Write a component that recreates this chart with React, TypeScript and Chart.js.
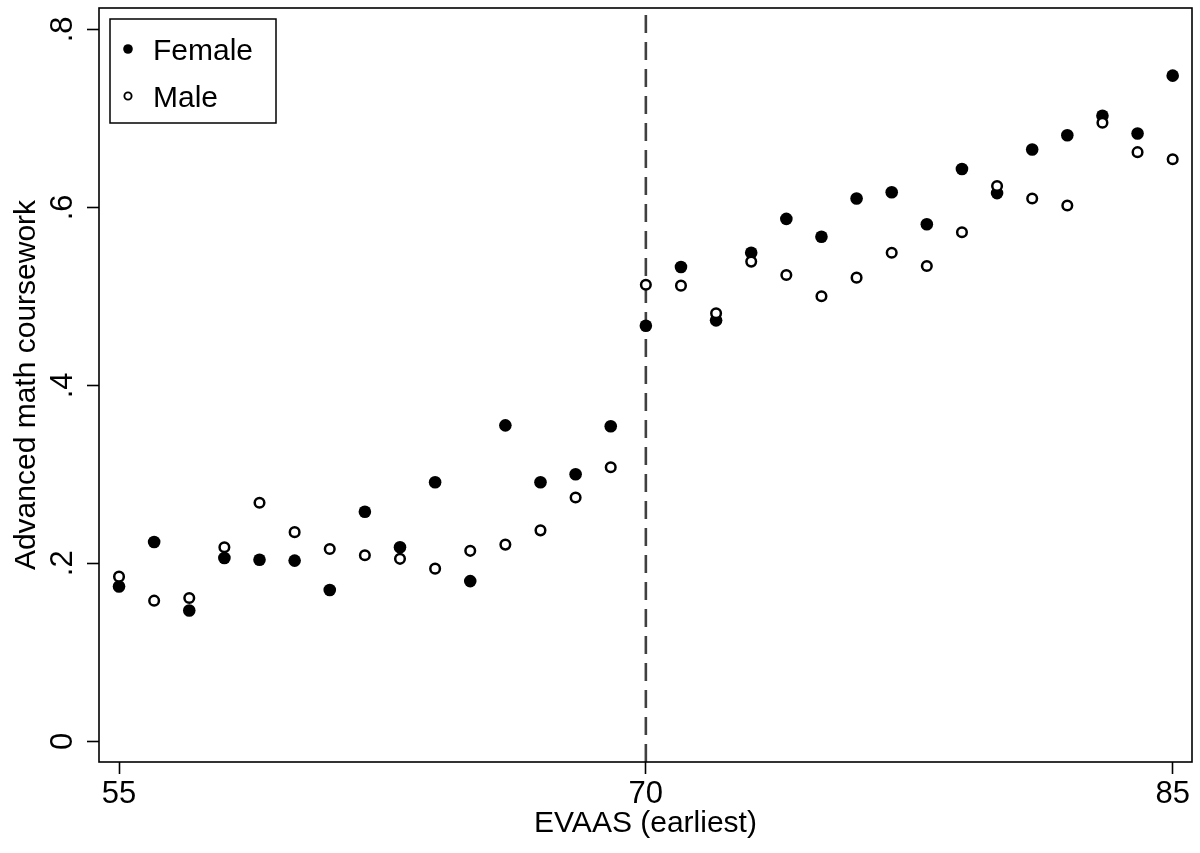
import React, { useEffect, useRef } from "react";
import { Chart, registerables } from "chart.js";

Chart.register(...registerables);

const xValues = [55, 56, 57, 58, 59, 60, 61, 62, 63, 64, 65, 66, 67, 68, 69, 70, 71, 72, 73, 74, 75, 76, 77, 78, 79, 80, 81, 82, 83, 84, 85];
const femaleValues = [0.174, 0.224, 0.147, 0.206, 0.204, 0.203, 0.170, 0.258, 0.218, 0.291, 0.180, 0.355, 0.291, 0.300, 0.354, 0.467, 0.533, 0.473, 0.549, 0.587, 0.567, 0.610, 0.617, 0.581, 0.643, 0.616, 0.665, 0.681, 0.703, 0.683, 0.748];
const maleValues = [0.185, 0.158, 0.161, 0.218, 0.268, 0.235, 0.216, 0.209, 0.205, 0.194, 0.214, 0.221, 0.237, 0.274, 0.308, 0.513, 0.512, 0.481, 0.539, 0.524, 0.500, 0.521, 0.549, 0.534, 0.572, 0.624, 0.610, 0.602, 0.695, 0.662, 0.654];
const xTickValues = [55, 70, 85];
const xTickLabels = ["55", "70", "85"];
const yTickValues = [0, 0.2, 0.4, 0.6, 0.8];
const yTickLabels = ["0", ".2", ".4", ".6", ".8"];
const cutoff = 70;
const seriesNames = ["Female", "Male"];
const xTitle = "EVAAS (earliest)";
const yTitle = "Advanced math coursework";

const FONT = "'Liberation Sans', Arial, Helvetica, sans-serif";

const framePlugin = {
  id: "stataFrame",
  beforeDatasetsDraw(chart: any) {
    const { ctx, chartArea } = chart;
    const xs = chart.scales.x;
    const px = xs.getPixelForValue(cutoff);
    ctx.save();
    ctx.strokeStyle = "#404040";
    ctx.lineWidth = 2.6;
    ctx.setLineDash([18, 9]);
    ctx.beginPath();
    ctx.moveTo(px, chartArea.bottom);
    ctx.lineTo(px, chartArea.top);
    ctx.stroke();
    ctx.restore();
  },
  afterDraw(chart: any) {
    const { ctx, chartArea } = chart;
    const ys = chart.scales.y;
    ctx.save();
    ctx.strokeStyle = "#000";
    ctx.lineWidth = 1.6;
    ctx.strokeRect(chartArea.left, chartArea.top, chartArea.right - chartArea.left, chartArea.bottom - chartArea.top);
    ctx.fillStyle = "#000";
    ctx.font = `31px ${FONT}`;
    ctx.textAlign = "center";
    ctx.textBaseline = "alphabetic";
    yTickValues.forEach((v, i) => {
      const py = ys.getPixelForValue(v);
      ctx.save();
      ctx.translate(72, py);
      ctx.rotate(-Math.PI / 2);
      ctx.fillText(yTickLabels[i], 0, 0);
      ctx.restore();
    });
    const lx = 110, ly = 19, lw = 166, lh = 104;
    ctx.fillStyle = "#fff";
    ctx.fillRect(lx, ly, lw, lh);
    ctx.strokeStyle = "#000";
    ctx.lineWidth = 1.5;
    ctx.strokeRect(lx, ly, lw, lh);
    ctx.fillStyle = "#000";
    ctx.beginPath();
    ctx.arc(128, 49, 4.8, 0, Math.PI * 2);
    ctx.fill();
    ctx.beginPath();
    ctx.arc(128, 96, 3.6, 0, Math.PI * 2);
    ctx.fillStyle = "#fff";
    ctx.fill();
    ctx.lineWidth = 1.9;
    ctx.strokeStyle = "#000";
    ctx.stroke();
    ctx.fillStyle = "#000";
    ctx.font = `30px ${FONT}`;
    ctx.textAlign = "left";
    ctx.textBaseline = "alphabetic";
    ctx.fillText(seriesNames[0], 153, 60);
    ctx.fillText(seriesNames[1], 153, 107);
    ctx.restore();
  },
};

export default function App() {
  const ref = useRef<HTMLCanvasElement | null>(null);
  useEffect(() => {
    if (!ref.current) return;
    const chart = new Chart(ref.current, {
      type: "scatter",
      data: {
        datasets: [
          {
            label: seriesNames[0],
            data: xValues.map((x, i) => ({ x, y: femaleValues[i] })),
            backgroundColor: "#000",
            borderColor: "#000",
            borderWidth: 0,
            pointRadius: 6.3,
            order: 2,
          },
          {
            label: seriesNames[1],
            data: xValues.map((x, i) => ({ x, y: maleValues[i] })),
            backgroundColor: "#fff",
            borderColor: "#000",
            borderWidth: 2.5,
            pointRadius: 4.8,
            order: 1,
          },
        ],
      },
      options: {
        animation: false,
        responsive: false,
        devicePixelRatio: 1,
        events: [],
        layout: { padding: { top: 8, right: 8, left: 0, bottom: 0 } },
        plugins: { legend: { display: false }, tooltip: { enabled: false } },
        scales: {
          x: {
            type: "linear",
            min: 54.43,
            max: 85.55,
            afterBuildTicks: (s: any) => {
              s.ticks = xTickValues.map((v) => ({ value: v }));
            },
            afterFit: (s: any) => {
              s.height = 91;
            },
            ticks: {
              color: "#000",
              padding: 2,
              font: { family: FONT, size: 31 },
              callback: (v: any) => {
                const i = xTickValues.indexOf(Number(v));
                return i >= 0 ? xTickLabels[i] : "";
              },
            },
            grid: {
              display: true,
              drawOnChartArea: false,
              drawTicks: true,
              tickLength: 12,
              tickWidth: 1.6,
              tickColor: "#000",
            },
            border: { display: false },
            title: {
              display: true,
              text: xTitle,
              color: "#000",
              font: { family: FONT, size: 30 },
              padding: { top: 0, bottom: 11 },
            },
          },
          y: {
            type: "linear",
            min: -0.0233,
            max: 0.824,
            afterBuildTicks: (s: any) => {
              s.ticks = yTickValues.map((v) => ({ value: v }));
            },
            afterFit: (s: any) => {
              s.width = 99;
            },
            ticks: {
              display: false,
            },
            grid: {
              display: true,
              drawOnChartArea: false,
              drawTicks: true,
              tickLength: 12,
              tickWidth: 1.6,
              tickColor: "#000",
            },
            border: { display: false },
            title: {
              display: true,
              text: yTitle,
              color: "#000",
              font: { family: FONT, size: 30 },
              padding: { top: 9, bottom: 0 },
            },
          },
        },
      },
      plugins: [framePlugin],
    });
    return () => chart.destroy();
  }, []);
  return (
    <div style={{ position: "fixed", left: 0, top: 0, width: 1200, height: 853, background: "#fff" }}>
      <canvas ref={ref} width={1200} height={853} style={{ display: "block", width: 1200, height: 853 }} />
    </div>
  );
}
